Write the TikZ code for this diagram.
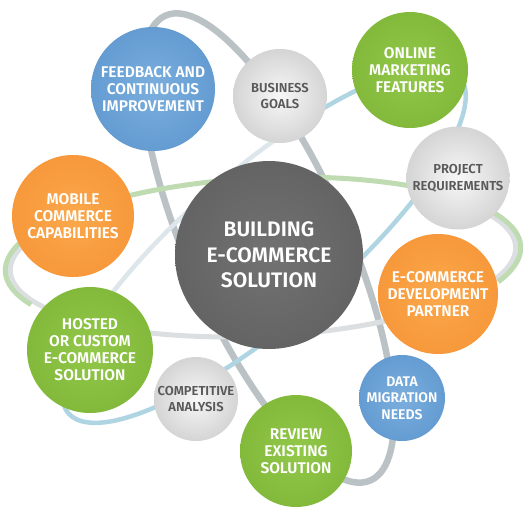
\documentclass[tikz,border=0pt]{standalone}
\usepackage{fontspec}
\setmainfont{Fira Sans}[BoldFont={Fira Sans SemiBold}]
\definecolor{blueC}{HTML}{7AAEDD}
\definecolor{blueE}{HTML}{4E8AC7}
\definecolor{orC}{HTML}{FBA84B}
\definecolor{orE}{HTML}{F2892B}
\definecolor{grC}{HTML}{93C84A}
\definecolor{grE}{HTML}{72AB2D}
\definecolor{gyC}{HTML}{F7F7F7}
\definecolor{gyE}{HTML}{B2B2B4}
\definecolor{dkC}{HTML}{737273}
\definecolor{dkE}{HTML}{565556}
\definecolor{gytext}{HTML}{595959}
\definecolor{ringA}{HTML}{BAC2C5}
\definecolor{ringBlue}{HTML}{AFD5E3}
\definecolor{ringBlueL}{HTML}{DDE6EA}
\definecolor{ringGreen}{HTML}{BFDBB2}
\definecolor{ringGray}{HTML}{DCDFE1}
\pgfdeclareradialshading{shblue}{\pgfpoint{0bp}{0bp}}{color(0bp)=(blueC); color(50bp)=(blueE)}
\pgfdeclareradialshading{shor}{\pgfpoint{0bp}{0bp}}{color(0bp)=(orC); color(50bp)=(orE)}
\pgfdeclareradialshading{shgr}{\pgfpoint{0bp}{0bp}}{color(0bp)=(grC); color(50bp)=(grE)}
\pgfdeclareradialshading{shgy}{\pgfpoint{0bp}{0bp}}{color(0bp)=(gyC); color(50bp)=(gyE)}
\pgfdeclareradialshading{shdk}{\pgfpoint{0bp}{0bp}}{color(0bp)=(dkC); color(50bp)=(dkE)}
\tikzset{
  bub/.style={circle, inner sep=0pt, align=center, text=white,
    font=\fontsize{15.5}{17}\selectfont\bfseries},
  bluebub/.style={bub, shading=shblue},
  orbub/.style={bub, shading=shor},
  grbub/.style={bub, shading=shgr},
  gybub/.style={bub, shading=shgy, text=gytext,
    font=\fontsize{13}{16.7}\selectfont\bfseries},
  centerbub/.style={bub, shading=shdk,
    font=\fontsize{21}{25.5}\selectfont\bfseries},
  ringtall/.style={draw=ringA, line width=6.5pt},
  ringblue/.style={draw=ringBlue, line width=4.5pt},
  ringbluel/.style={draw=ringBlueL, line width=4.5pt},
  ringgreen/.style={draw=ringGreen, line width=5pt},
  ringgray/.style={draw=ringGray, line width=5pt},
}
\begin{document}
\begin{tikzpicture}[x=1pt, y=-1pt]
\useasboundingbox[fill=white] (0,0) rectangle (530,523);
% orbit centres
\coordinate (EA) at (268,248);
\coordinate (EB) at (263,259);
\coordinate (EC) at (264,245);
% tall gray orbit
\begin{scope}[shift={(EA)}, rotate=-66.2]
  \draw[ringtall] (0,0) ellipse [x radius=254pt, y radius=80pt];
\end{scope}
% horizontal orbit: green upper part, gray lower part
\begin{scope}[shift={(EB)}, rotate=2.8]
  \draw[ringgray] (155:253pt and 77pt) arc [start angle=155, end angle=385, x radius=253pt, y radius=77pt];
  \draw[ringgreen] (-25:258pt and 81pt) arc [start angle=-25, end angle=205, x radius=258pt, y radius=81pt];
\end{scope}
% blue orbit
\begin{scope}[shift={(EC)}, rotate=40.7]
  \draw[ringbluel] (68:258pt and 76pt) arc [start angle=68, end angle=135, x radius=258pt, y radius=76pt];
  \draw[ringblue] (135:258pt and 76pt) arc [start angle=135, end angle=428, x radius=258pt, y radius=76pt];
\end{scope}
% bubbles
\node[centerbub, minimum size=188pt] (core) at (269,255) {BUILDING\\E-COMMERCE\\SOLUTION};
\node[bluebub, minimum size=124pt] (fb) at (153,89) {FEEDBACK AND\\CONTINUOUS\\IMPROVEMENT};
\node[gybub, minimum size=94pt] (bg) at (280,96) {BUSINESS\\GOALS};
\node[grbub, minimum size=116pt] (om) at (410,70) {ONLINE\\MARKETING\\FEATURES};
\node[gybub, minimum size=103pt] (pr) at (458,178) {PROJECT\\REQUIREMENTS};
\node[orbub, minimum size=122pt] (mc) at (73,216) {MOBILE\\COMMERCE\\CAPABILITIES};
\node[orbub, minimum size=120pt] (ep) at (438,294) {E-COMMERCE\\DEVELOPMENT\\PARTNER};
\node[grbub, minimum size=126pt] (ho) at (90,350) {HOSTED\\OR CUSTOM\\E-COMMERCE\\SOLUTION};
\node[gybub, minimum size=84pt] (ca) at (196,399) {COMPETITIVE\\ANALYSIS};
\node[grbub, minimum size=112pt] (rv) at (296,451) {REVIEW\\EXISTING\\SOLUTION};
\node[bluebub, minimum size=86pt, font=\fontsize{14}{16.7}\selectfont\bfseries] (dm) at (402,398) {DATA\\MIGRATION\\NEEDS};
\end{tikzpicture}
\end{document}
